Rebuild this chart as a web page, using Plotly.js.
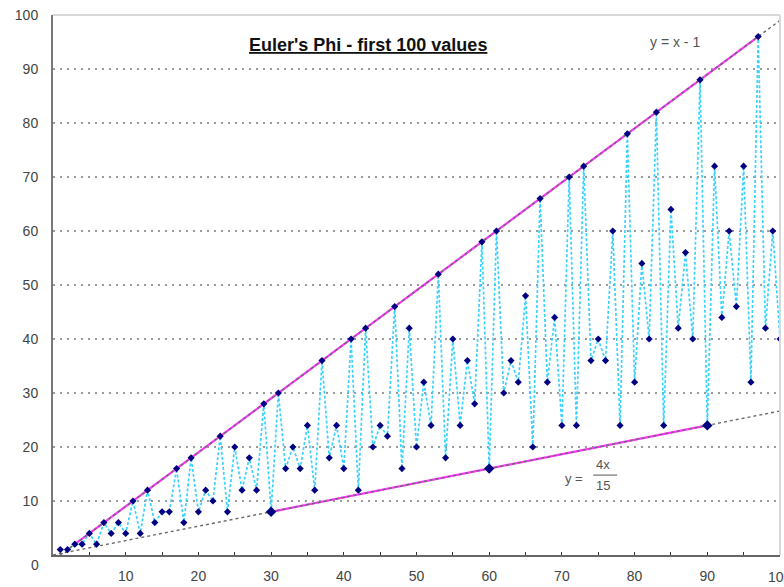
<!DOCTYPE html>
<html>
<head>
<meta charset="utf-8">
<script src="https://cdn.plot.ly/plotly-3.0.1.min.js"></script>
<style>html,body{margin:0;padding:0;background:#fff;}#chart{width:784px;height:587px;}</style>
</head>
<body>
<div id="chart"></div>
<script>
// Data: n and Euler's phi(n) for n = 1..100
const n = [1,2,3,4,5,6,7,8,9,10,11,12,13,14,15,16,17,18,19,20,21,22,23,24,25,26,27,28,29,30,31,32,33,34,35,36,37,38,39,40,41,42,43,44,45,46,47,48,49,50,51,52,53,54,55,56,57,58,59,60,61,62,63,64,65,66,67,68,69,70,71,72,73,74,75,76,77,78,79,80,81,82,83,84,85,86,87,88,89,90,91,92,93,94,95,96,97,98,99,100];
const phi = [1,1,2,2,4,2,6,4,6,4,10,4,12,6,8,8,16,6,18,8,12,10,22,8,20,12,18,12,28,8,30,16,20,16,24,12,36,18,24,16,40,12,42,20,24,22,46,16,42,20,32,24,52,18,40,24,36,28,58,16,60,30,36,32,48,20,66,32,44,24,70,24,72,36,40,36,60,24,78,32,54,40,82,24,64,42,56,40,88,24,72,44,60,46,72,32,96,42,60,40];
// Highlighted points on the lower bound
const lowX = [30,60,90];
const lowY = [8,16,24];
// Reference lines
const upperDashX = [1,100];
const upperDashY = [0,99];
const upperSolidX = [3,97];
const upperSolidY = [2,96];
const lowerDashX = [0,100];
const lowerDashY = [0,26.667];
const lowerSolidX = [30,90];
const lowerSolidY = [8,24];
const xTicks = [10,20,30,40,50,60,70,80,90];
const yTicks = [10,20,30,40,50,60,70,80,90,100];

const traces = [
  {x:n, y:phi, mode:'lines', line:{color:'#3cd2ff', width:1.7, dash:'3px,2px'}, hoverinfo:'skip'},
  {x:upperSolidX, y:upperSolidY, mode:'lines', line:{color:'#ff33ff', width:2.2}},
  {x:lowerSolidX, y:lowerSolidY, mode:'lines', line:{color:'#ff33ff', width:2.2}},
  {x:upperDashX, y:upperDashY, mode:'lines', line:{color:'#6a6a6a', width:1.4, dash:'3px,3px'}},
  {x:lowerDashX, y:lowerDashY, mode:'lines', line:{color:'#6a6a6a', width:1.4, dash:'3px,3px'}},
  {x:n, y:phi, mode:'markers', marker:{symbol:'diamond', size:5.5, color:'#000080'}},
  {x:lowX, y:lowY, mode:'markers', marker:{symbol:'diamond', size:8, color:'#000080'}}
];

const FAM = '"Liberation Sans", Arial, sans-serif';
const font = {family:FAM, size:14, color:'#444'};
const layout = {
  width:784, height:587,
  margin:{l:53, r:4, t:15, b:32},
  showlegend:false,
  paper_bgcolor:'#fff', plot_bgcolor:'#fff',
  font:font,
  xaxis:{
    range:[0,100], tickvals:xTicks, ticks:'inside', ticklen:3, tickcolor:'#333', tickwidth:1,
    minor:{dtick:5, ticks:'inside', ticklen:3, tickcolor:'#333', showgrid:false},
    showgrid:false, zeroline:false, showline:true, linecolor:'#666', linewidth:2,
    ticklabelstandoff:7, tickfont:font
  },
  yaxis:{
    range:[0,100], tickvals:yTicks, ticks:'', showgrid:true, gridcolor:'#9a9a9a', gridwidth:2, griddash:'2px,5px',
    zeroline:false, showline:true, linecolor:'#777', linewidth:2, tickfont:font, ticklabelstandoff:10
  },
  shapes:[
    {type:'line', xref:'paper', yref:'paper', x0:0, x1:1, y0:1, y1:1, line:{color:'#d8d8d8', width:2}},
    {type:'line', xref:'paper', yref:'paper', x0:1, x1:1, y0:0, y1:1, line:{color:'#d8d8d8', width:2}},
    {type:'line', xref:'x', yref:'y', x0:74.3, x1:77.6, y0:14.8, y1:14.8, line:{color:'#555', width:1}}
  ],
  annotations:[
    {text:"<b><u>Euler's Phi - first 100 values</u></b>", xref:'paper', yref:'paper', x:(368-53)/727, y:(555-33)/540, showarrow:false, font:{family:FAM, size:18, color:'#111'}},
    {text:'y = x - 1', xref:'x', yref:'y', x:85.6, y:95, showarrow:false, font:{family:FAM, size:14, color:'#555'}},
    {text:'y =', xref:'x', yref:'y', x:71.7, y:14.1, showarrow:false, font:{family:FAM, size:13, color:'#555'}},
    {text:'4x', xref:'x', yref:'y', x:75.65, y:16.85, showarrow:false, font:{family:FAM, size:13, color:'#555'}},
    {text:'15', xref:'x', yref:'y', x:75.65, y:12.96, showarrow:false, font:{family:FAM, size:13, color:'#555'}},
    {text:'0', xref:'paper', yref:'y', x:-0.0165, y:0, yshift:-10, xanchor:'right', showarrow:false, font:font},
    {text:'100', xref:'x', yref:'paper', x:100, y:0, yanchor:'top', yshift:-12, showarrow:false, font:font}
  ]
};
Plotly.newPlot('chart', traces, layout, {staticPlot:true});
</script>
</body>
</html>
